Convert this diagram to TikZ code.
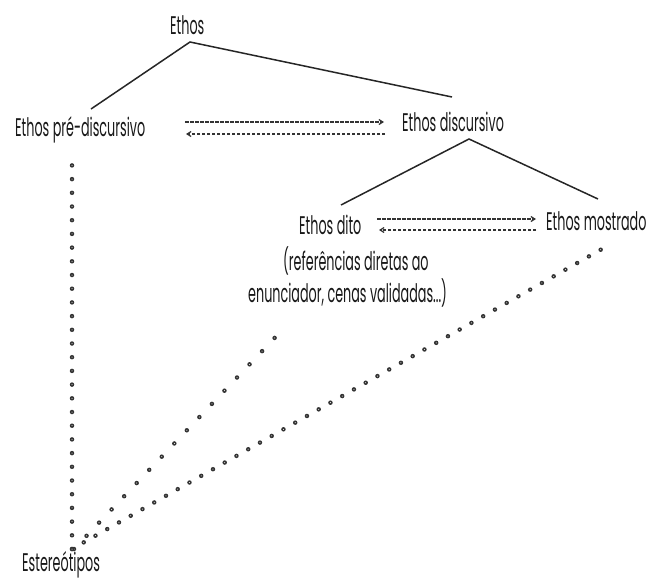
\documentclass[tikz,border=0pt]{standalone}
\usepackage{fontspec}
\setmainfont[FakeStretch=0.5]{Poppins}
\usetikzlibrary{arrows.meta}
\tikzset{
  lbl/.style={anchor=base west, inner sep=0pt, font=\fontsize{25.5}{28}\selectfont, text=black!90},
  tree/.style={line width=1.5pt, black!85},
  dasharrow/.style={line width=1.2pt, black!80, dash pattern=on 3.5pt off 1.5pt, -{Straight Barb[length=4pt,width=5pt]}},
  dotsout/.style={line width=4.5pt, black!80, line cap=round},
  dotsin/.style={line width=1pt, white, line cap=round},
}
\begin{document}
\begin{tikzpicture}[x=1pt,y=-1pt]
\useasboundingbox (0,0) rectangle (659,579);
\node[lbl] (ethos) at (170,34) {Ethos};
\node[lbl] (pre) at (15,136) {Ethos pré-discursivo};
\node[lbl] (disc) at (402,131) {Ethos discursivo};
\node[lbl] (dito) at (299,234) {Ethos dito};
\node[lbl] (most) at (546,230) {Ethos mostrado};
\node[lbl] (ref1) at (283,270) {(referências diretas ao};
\node[lbl] (ref2) at (248,302) {enunciador, cenas validadas...)};
\node[lbl] (est) at (22,571) {Estereótipos};
% tree lines
\coordinate (eA) at (190,42);
\coordinate (eL) at (91,109);
\coordinate (eR) at (452,97);
\coordinate (dA) at (469,139);
\coordinate (dL) at (341,205);
\coordinate (dR) at (598,199);
\draw[tree] (eL) -- (eA) -- (eR);
\draw[tree] (dL) -- (dA) -- (dR);
% dashed arrows
\draw[dasharrow] (185,122) -- (384,122);
\draw[dasharrow] (385,134) -- (186,134);
\draw[dasharrow] (377,219) -- (536,219);
\draw[dasharrow] (536,230) -- (379,230);
% dotted
\coordinate (sV) at (72,549);
\coordinate (tV) at (72,152);
\coordinate (sL) at (74,549);
\coordinate (tL) at (285,327);
\coordinate (tR) at (609,245);
\foreach \st/\tg/\gap in {sV/tV/13.7, sL/tL/18.2, sV/tR/13.5}{
  \draw[dotsout, dash pattern=on 0pt off \gap pt] (\st) -- (\tg);
  \draw[dotsin, dash pattern=on 0pt off \gap pt] (\st) -- (\tg);
}
\end{tikzpicture}
\end{document}
